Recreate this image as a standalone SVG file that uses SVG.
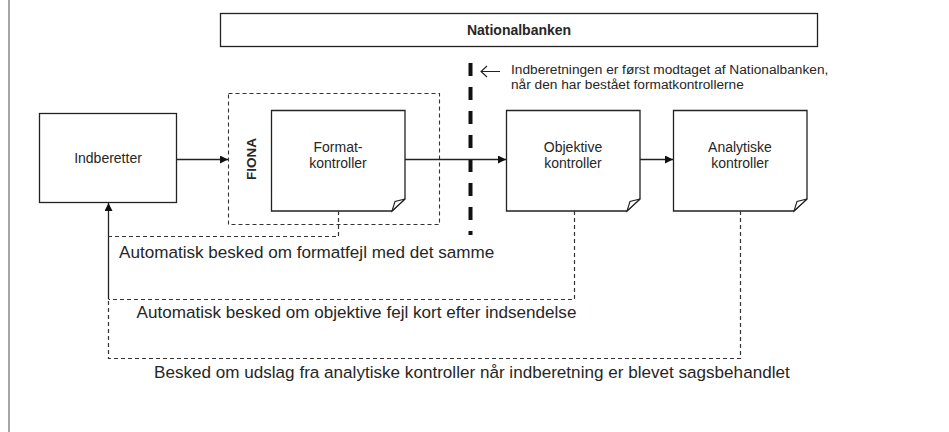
<svg xmlns="http://www.w3.org/2000/svg" width="949" height="432" viewBox="0 0 949 432">
<defs>
<style>
.box{fill:#fff;stroke:#222;stroke-width:1.3}
.t{font-family:"Liberation Sans",Arial,sans-serif;fill:#262626}
.bt{font-size:14px;text-anchor:middle}
.ln{fill:none;stroke:#222;stroke-width:1.3}
.dl{fill:none;stroke:#333;stroke-width:1.2;stroke-dasharray:4 3}
.fold{fill:#fff;stroke:#222;stroke-width:1.1}
.lab{font-size:17.1px}
</style>
<marker id="ah" viewBox="0 0 10 10" refX="10" refY="5" markerWidth="8" markerHeight="8" markerUnits="userSpaceOnUse" orient="auto">
<path d="M0,0 L10,5 L0,10 z" fill="#111"/>
</marker>
</defs>
<rect x="0" y="0" width="949" height="432" fill="#fff"/>
<line x1="9" y1="0" x2="9" y2="432" stroke="#a6a6a6" stroke-width="2"/>

<g id="nationalbanken">
<rect class="box" x="220.5" y="13.5" width="597" height="33"/>
<text class="t" x="519" y="35" font-size="14" font-weight="bold" text-anchor="middle">Nationalbanken</text>
</g>

<g id="graense">
<line x1="470.5" y1="63" x2="470.5" y2="235" stroke="#111" stroke-width="4" stroke-dasharray="13 11"/>
<path d="M500,71.5 H481 M487,66 L481,71.5 L487,77" fill="none" stroke="#222" stroke-width="1.1"/>
<text class="t" x="511" y="74" font-size="13.7">Indberetningen er først modtaget af Nationalbanken,</text>
<text class="t" x="511" y="88.5" font-size="13.7">når den har bestået formatkontrollerne</text>
</g>

<g id="indberetter">
<rect class="box" x="39.5" y="113.5" width="137" height="89"/>
<text class="t bt" x="108" y="163">Indberetter</text>
</g>

<g id="fiona">
<rect x="228.5" y="93.5" width="211" height="131" fill="none" stroke="#333" stroke-width="1.1" stroke-dasharray="4 3"/>
<text class="t" transform="translate(255.5,159) rotate(-90)" font-size="13.5" font-weight="bold" text-anchor="middle">FIONA</text>
</g>

<g id="formatkontroller">
<path class="box" d="M271.5,110.5 H405 V199 L392,211 H271.5 Z"/>
<path class="fold" d="M392,211 L395,201.5 L405,199 Z"/>
<text class="t bt" x="338" y="152">Format-</text>
<text class="t bt" x="338" y="168">kontroller</text>
</g>

<g id="objektive">
<path class="box" d="M506.5,110.5 H640 V199 L627,211 H506.5 Z"/>
<path class="fold" d="M627,211 L630,201.5 L640,199 Z"/>
<text class="t bt" x="573" y="152">Objektive</text>
<text class="t bt" x="573" y="168">kontroller</text>
</g>

<g id="analytiske">
<path class="box" d="M673.5,110.5 H807 V199 L794,211 H673.5 Z"/>
<path class="fold" d="M794,211 L797,201.5 L807,199 Z"/>
<text class="t bt" x="740" y="152">Analytiske</text>
<text class="t bt" x="740" y="168">kontroller</text>
</g>

<g id="forbindelser">
<line class="ln" x1="177" y1="159.5" x2="228" y2="159.5" marker-end="url(#ah)"/>
<line class="ln" x1="405" y1="159.5" x2="506" y2="159.5" marker-end="url(#ah)"/>
<line class="ln" x1="640" y1="159.5" x2="673" y2="159.5" marker-end="url(#ah)"/>
<line class="ln" x1="108.5" y1="299" x2="108.5" y2="203" marker-end="url(#ah)"/>
<path class="dl" d="M338.5,211 V236.5 H108.5"/>
<path class="dl" d="M574.5,211 V299.5 H108.5"/>
<path class="dl" d="M740.5,211 V358.5 H108.5 V299.5"/>
</g>

<g id="etiketter">
<text class="t lab" x="119" y="258">Automatisk besked om formatfejl med det samme</text>
<text class="t lab" x="136.5" y="317.5">Automatisk besked om objektive fejl kort efter indsendelse</text>
<text class="t lab" x="154" y="378">Besked om udslag fra analytiske kontroller når indberetning er blevet sagsbehandlet</text>
</g>
</svg>
